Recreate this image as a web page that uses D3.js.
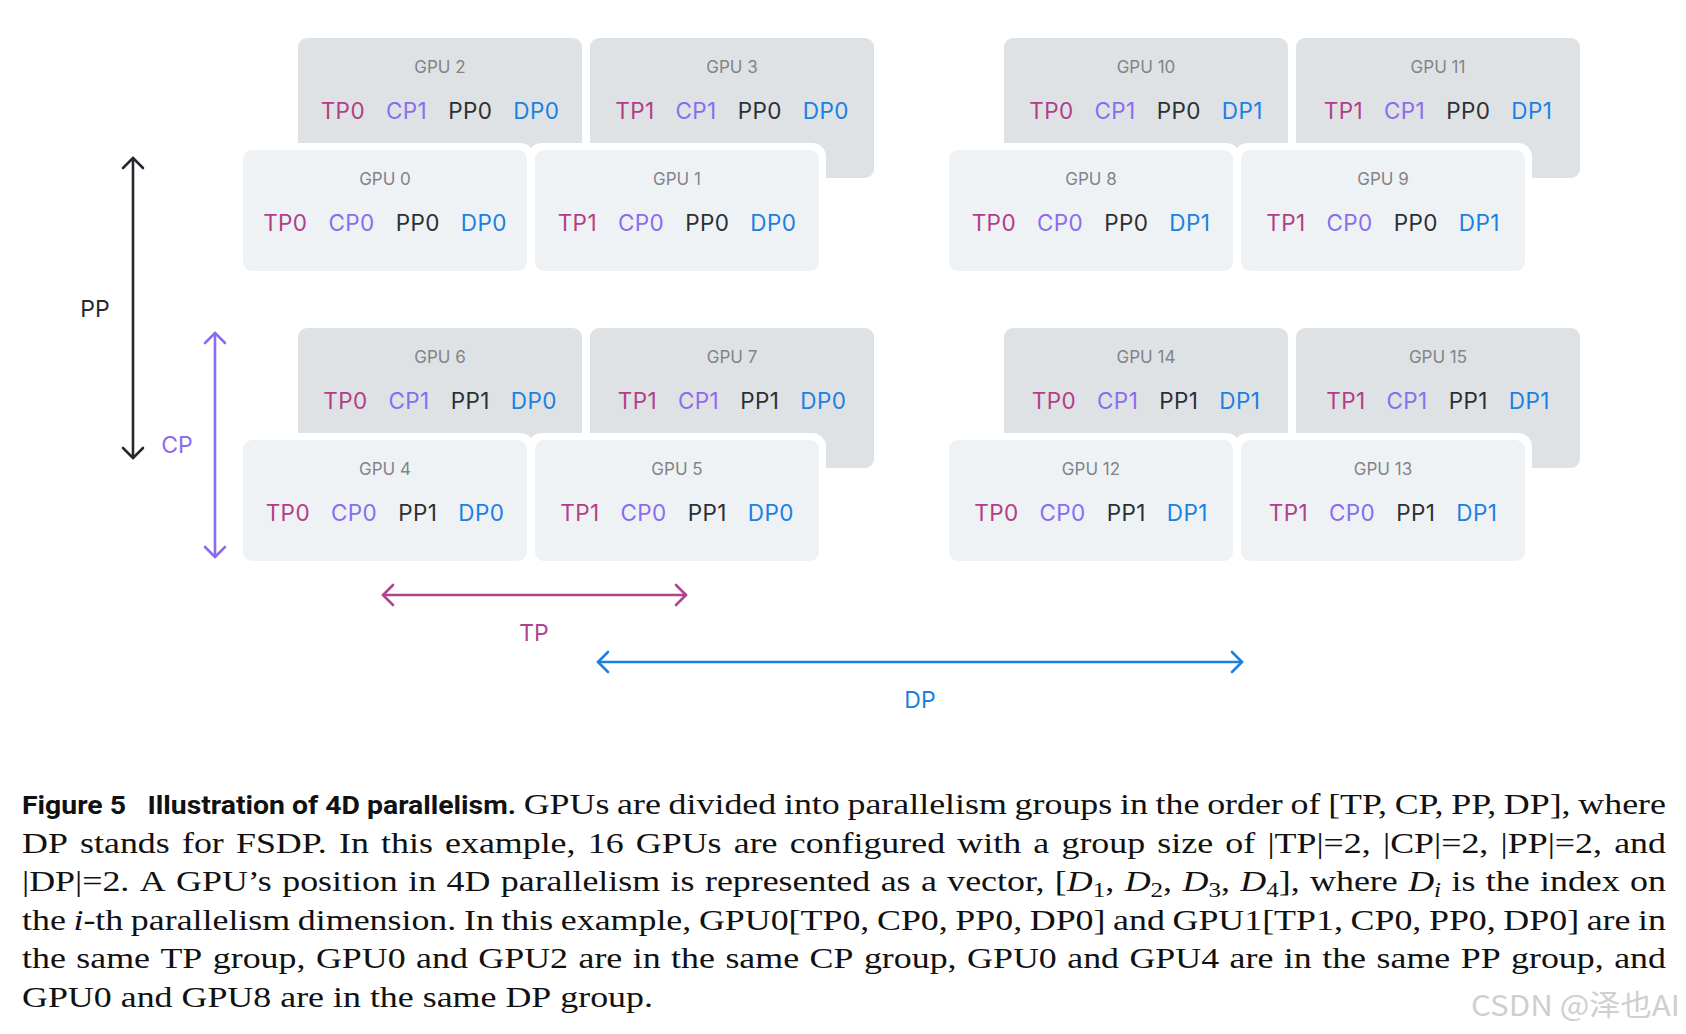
<!DOCTYPE html>
<html><head><meta charset="utf-8">
<script src="https://cdn.jsdelivr.net/npm/d3@7"></script>
<style>html,body{margin:0;padding:0;background:#fff;} svg{display:block}</style>
</head><body>
<svg id="chart" width="1686" height="1034"></svg>
<script>
// ---------------- data ----------------
const gpuIds = [0,1,2,3,4,5,6,7,8,9,10,11,12,13,14,15];
const tpIdx  = [0,1,0,1,0,1,0,1,0,1,0,1,0,1,0,1];
const cpIdx  = [0,0,1,1,0,0,1,1,0,0,1,1,0,0,1,1];
const ppIdx  = [0,0,0,0,1,1,1,1,0,0,0,0,1,1,1,1];
const dpIdx  = [0,0,0,0,0,0,0,0,1,1,1,1,1,1,1,1];
const dimNames  = ["TP","CP","PP","DP"];
const dimColors = ["#b13f88","#8a6cf0","#2b3035","#1a80e4"];
const arrowLabels = ["PP","CP","TP","DP"];
const captionBold = "Figure 5\u2002 Illustration of 4D parallelism.";
const captionLines = [
  "GPUs are divided into parallelism groups in the order of [TP, CP, PP, DP], where",
  "DP stands for FSDP. In this example, 16 GPUs are configured with a group size of |TP|=2, |CP|=2, |PP|=2, and",
  "|DP|=2. A GPU\u2019s position in 4D parallelism is represented as a vector, [{i:D}{s:1}, {i:D}{s:2}, {i:D}{s:3}, {i:D}{s:4}], where {i:D}{t:i} is the index on",
  "the {i:i}-th parallelism dimension. In this example, GPU0[TP0, CP0, PP0, DP0] and GPU1[TP1, CP0, PP0, DP0] are in",
  "the same TP group, GPU0 and GPU2 are in the same CP group, GPU0 and GPU4 are in the same PP group, and",
  "GPU0 and GPU8 are in the same DP group."
];
const watermark = "CSDN @\u6cfd\u4e5fAI";

// ---------------- scales ----------------
const svg = d3.select("#chart");
const boxW = 284;
const xDP = d3.scaleLinear().domain([0,1]).range([243, 949]);
const xTP = d3.scaleLinear().domain([0,1]).range([0, 292]);
const xCP = d3.scaleLinear().domain([0,1]).range([0, 55]);
const yCP = d3.scaleLinear().domain([0,1]).range([150, 38]);
const yPP = d3.scaleLinear().domain([0,1]).range([0, 290]);
const hCP = d3.scaleOrdinal().domain([0,1]).range([121, 140]);

const gpus = gpuIds.map((id,i) => {
  const g = {id, tp:tpIdx[i], cp:cpIdx[i], pp:ppIdx[i], dp:dpIdx[i]};
  g.x = xDP(g.dp) + xTP(g.tp) + xCP(g.cp);
  g.y = yCP(g.cp) + yPP(g.pp);
  g.h = hCP(g.cp);
  return g;
});
const back = gpus.filter(g => g.cp === 1);
const front = gpus.filter(g => g.cp === 0);

const font = "Inter, 'Noto Sans', sans-serif";

svg.append("g").selectAll("rect").data(back).join("rect")
  .attr("x", d=>d.x).attr("y", d=>d.y).attr("width", boxW).attr("height", d=>d.h)
  .attr("rx", 9).attr("fill", "#dfe2e5");
svg.append("g").selectAll("rect").data(front).join("rect")
  .attr("x", d=>d.x-7).attr("y", d=>d.y-7).attr("width", boxW+14).attr("height", d=>d.h+14)
  .attr("rx", 14).attr("fill", "#ffffff");
svg.append("g").selectAll("rect").data(front).join("rect")
  .attr("x", d=>d.x).attr("y", d=>d.y).attr("width", boxW).attr("height", d=>d.h)
  .attr("rx", 9).attr("fill", "#eff2f5");

const lab = svg.append("g");
gpus.forEach(g => {
  const cx = g.x + boxW/2;
  lab.append("text").attr("x", cx).attr("y", g.y + 35).attr("text-anchor","middle")
    .attr("font-family", font).attr("font-size", 17).attr("fill", "#818489")
    .text("GPU " + g.id);
  const vals = [g.tp, g.cp, g.pp, g.dp];
  const texts = vals.map((v,k) => lab.append("text").attr("y", g.y + 81)
    .attr("font-family", font).attr("font-size", 22.5).attr("fill", dimColors[k])
    .attr("letter-spacing", 0.4)
    .text(dimNames[k] + v));
  const widths = texts.map(t => t.node().getComputedTextLength());
  const gap = 21;
  const total = d3.sum(widths) + gap*(widths.length-1);
  let x = cx - total/2;
  texts.forEach((t,k) => { t.attr("x", x); x += widths[k] + gap; });
});

function vArrow(x, y1, y2, color) {
  const g = svg.append("g").attr("stroke", color).attr("stroke-width", 2.6)
    .attr("fill", "none").attr("stroke-linecap","round").attr("stroke-linejoin","round");
  g.append("line").attr("x1",x).attr("x2",x).attr("y1",y1).attr("y2",y2);
  g.append("path").attr("d", d3.line()([[x-10,y1+10],[x,y1],[x+10,y1+10]]));
  g.append("path").attr("d", d3.line()([[x-10,y2-10],[x,y2],[x+10,y2-10]]));
}
function hArrow(y, x1, x2, color) {
  const g = svg.append("g").attr("stroke", color).attr("stroke-width", 2.6)
    .attr("fill", "none").attr("stroke-linecap","round").attr("stroke-linejoin","round");
  g.append("line").attr("x1",x1).attr("x2",x2).attr("y1",y).attr("y2",y);
  g.append("path").attr("d", d3.line()([[x1+10,y-10],[x1,y],[x1+10,y+10]]));
  g.append("path").attr("d", d3.line()([[x2-10,y-10],[x2,y],[x2-10,y+10]]));
}
const cPP = "#262a2f", cCP = "#8a6cf0", cTP = "#b0448c", cDP = "#1a80e4";
vArrow(133, 158, 458, cPP);
vArrow(215, 333, 557, cCP);
hArrow(595, 383, 686, cTP);
hArrow(662, 598, 1242, cDP);
const alab = [[95,317,cPP],[177,453,cCP],[534,641,cTP],[920,708,cDP]];
arrowLabels.forEach((t,i) => {
  svg.append("text").attr("x", alab[i][0]).attr("y", alab[i][1]).attr("text-anchor","middle")
    .attr("font-family", font).attr("font-size", 23).attr("fill", alab[i][2]).text(t);
});

// caption
const serif = "'Liberation Serif', 'Times New Roman', serif";
const capSize = 29.5;
const left = 22, right = 1666, targetW = right - left;
const lastLineW = 631;  // width of the unjustified last line in the reference
const base0 = 814, lineH = 38.6;
const capG = svg.append("g");

function makeWord(word) {
  const t = capG.append("text").attr("font-family", serif).attr("font-size", capSize).attr("fill", "#111");
  const re = /\{(i|s|t):([^}]*)\}/g;
  let last = 0, m, shift = 0;
  const segs = [];
  while ((m = re.exec(word)) !== null) {
    if (m.index > last) segs.push(["r", word.slice(last, m.index)]);
    segs.push([m[1], m[2]]);
    last = re.lastIndex;
  }
  if (last < word.length) segs.push(["r", word.slice(last)]);
  segs.forEach(([k, s]) => {
    const ts = t.append("tspan").text(s);
    const sub = (k === "s" || k === "t");
    const want = sub ? 6 : 0;
    if (want !== shift) { ts.attr("dy", want - shift); shift = want; }
    if (k === "i" || k === "t") ts.attr("font-style", "italic");
    if (sub) ts.attr("font-size", capSize*0.7);
  });
  return t;
}
const tmpA = capG.append("text").attr("font-family", serif).attr("font-size", capSize).text("x x");
const tmpB = capG.append("text").attr("font-family", serif).attr("font-size", capSize).text("xx");
const spaceW = tmpA.node().getComputedTextLength() - tmpB.node().getComputedTextLength();
tmpA.remove(); tmpB.remove();

const boldW = 494;
capG.append("text").attr("x", left).attr("y", base0)
  .attr("font-family", "Roboto, 'Liberation Sans', sans-serif").attr("font-weight", 700)
  .attr("font-size", 26.5).attr("fill", "#111").attr("xml:space","preserve")
  .attr("textLength", boldW).attr("lengthAdjust", "spacingAndGlyphs").text(captionBold);

const lines = captionLines.map(l => l.split(" ").map(w => {
  const t = makeWord(w);
  return {t, w: t.node().getComputedTextLength()};
}));
const lastWs = lines[lines.length-1];
const lastNat = d3.sum(lastWs, d=>d.w) + spaceW*(lastWs.length-1);
const sx = lastLineW / lastNat;

lines.forEach((ws, li) => {
  const y = base0 + li*lineH;
  let startX = left, avail = targetW;
  if (li === 0) { startX = left + boldW; avail = targetW - boldW; }
  const sumW = d3.sum(ws, d=>d.w*sx);
  let gap;
  if (li === 0) gap = (avail - sumW) / ws.length;
  else if (li < lines.length-1) gap = (avail - sumW) / (ws.length-1);
  else gap = spaceW*sx;
  let x = startX + (li === 0 ? gap : 0);
  ws.forEach(d => {
    d.t.attr("transform", `translate(${x},${y}) scale(${sx},1)`);
    x += d.w*sx + gap;
  });
});

svg.append("text").attr("x", 1471).attr("y", 1016)
  .attr("font-family", "'Noto Sans CJK SC', 'Noto Sans', sans-serif").attr("font-size", 29)
  .attr("fill", "#cfcfcf").attr("textLength", 209).attr("lengthAdjust","spacingAndGlyphs")
  .text(watermark);
</script>
</body></html>
